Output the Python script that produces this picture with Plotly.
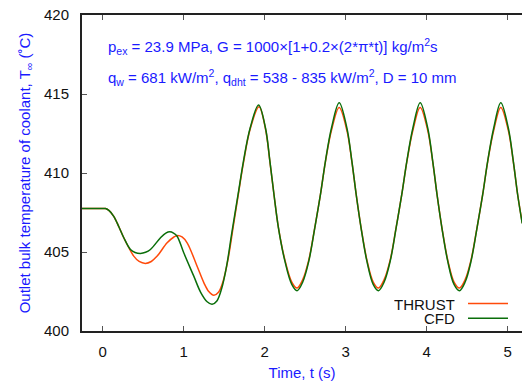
import plotly.graph_objects as go

# ---- data ----
t_thrust = [-0.26, 0.0, 0.035, 0.08, 0.137, 0.2, 0.261, 0.32, 0.384, 0.45, 0.528, 0.6, 0.673, 0.796,
            0.88, 0.927, 0.98, 1.043, 1.166, 1.25, 1.31, 1.372, 1.43, 1.49, 1.55, 1.615, 1.675, 1.74, 1.822, 1.93,
            2.01, 2.065, 2.115, 2.17, 2.25, 2.335, 2.40, 2.47, 2.545, 2.619, 2.689, 2.75, 2.825, 2.92,
            3.015, 3.077, 3.13, 3.19, 3.262, 3.34, 3.405, 3.475, 3.55, 3.623, 3.693, 3.755, 3.83, 3.92,
            4.013, 4.075, 4.128, 4.188, 4.26, 4.338, 4.405, 4.475, 4.548, 4.622, 4.692, 4.753, 4.828, 4.915,
            5.008, 5.07, 5.123, 5.18]
T_thrust = [407.75, 407.75, 407.75, 407.62, 407.26, 406.6, 405.9, 405.3, 404.74, 404.4, 404.28, 404.4, 404.74, 405.58,
            405.95, 406.05, 405.95, 405.58, 404.1, 403.05, 402.5, 402.26, 402.45, 403.2, 404.6, 406.7, 408.64, 410.7, 412.8, 414.2,
            412.8, 410.7, 408.64, 406.55, 404.5, 403.1, 402.72, 403.25, 404.5, 406.55, 408.64, 410.7, 412.7, 414.15,
            412.7, 410.7, 408.64, 406.55, 404.5, 403.1, 402.72, 403.25, 404.5, 406.55, 408.64, 410.7, 412.7, 414.15,
            412.7, 410.7, 408.64, 406.55, 404.5, 403.1, 402.72, 403.25, 404.5, 406.55, 408.64, 410.7, 412.7, 414.15,
            412.7, 410.7, 408.64, 406.85]

t_cfd = [-0.26, 0.0, 0.035, 0.08, 0.137, 0.2, 0.261, 0.343, 0.40, 0.467, 0.53, 0.59, 0.714, 0.78, 0.829, 0.875, 0.919, 1.001,
         1.125, 1.21, 1.29, 1.351, 1.41, 1.47, 1.53, 1.594, 1.672, 1.738, 1.821, 1.925,
         2.01, 2.065, 2.115, 2.17, 2.25, 2.335, 2.40, 2.47, 2.545, 2.619, 2.689, 2.75, 2.825, 2.92,
         3.015, 3.077, 3.13, 3.19, 3.262, 3.34, 3.405, 3.475, 3.55, 3.623, 3.693, 3.755, 3.83, 3.92,
         4.013, 4.075, 4.128, 4.188, 4.26, 4.338, 4.405, 4.475, 4.548, 4.622, 4.692, 4.753, 4.828, 4.915,
         5.008, 5.07, 5.123, 5.18]
T_cfd = [407.75, 407.75, 407.75, 407.62, 407.26, 406.6, 405.9, 405.16, 404.97, 404.91, 404.98, 405.16, 405.9, 406.2, 406.28, 406.2, 406.0, 404.95,
         403.47, 402.45, 401.85, 401.69, 401.9, 402.7, 404.1, 406.2, 408.64, 410.74, 412.85, 414.3,
         412.85, 410.74, 408.64, 406.53, 404.42, 402.95, 402.55, 403.1, 404.42, 406.53, 408.64, 410.74, 412.85, 414.45,
         412.85, 410.74, 408.64, 406.53, 404.42, 402.95, 402.55, 403.1, 404.42, 406.53, 408.64, 410.74, 412.85, 414.45,
         412.85, 410.74, 408.64, 406.53, 404.42, 402.95, 402.55, 403.1, 404.42, 406.53, 408.64, 410.74, 412.85, 414.45,
         412.85, 410.74, 408.64, 406.8]

x_ticks = [0, 1, 2, 3, 4, 5]
y_ticks = [400, 405, 410, 415, 420]
series_names = ["THRUST", "CFD"]
series_colors = ["#ff4a0a", "#0a6e0a"]

FONT = "Liberation Sans, Arial, Helvetica, sans-serif"
BLUE = "#1a1aff"

fig = go.Figure()
fig.add_trace(go.Scatter(x=t_thrust, y=T_thrust, mode="lines", name=series_names[0],
                         line=dict(color=series_colors[0], width=1.5, shape="spline", smoothing=1.0),
                         showlegend=False))
fig.add_trace(go.Scatter(x=t_cfd, y=T_cfd, mode="lines", name=series_names[1],
                         line=dict(color=series_colors[1], width=1.5, shape="spline", smoothing=1.0),
                         showlegend=False))

fig.update_layout(
    width=522, height=381,
    margin=dict(l=82, r=0, t=15, b=50),
    paper_bgcolor="white", plot_bgcolor="white",
    font=dict(family=FONT, size=15, color="#111111"),
    xaxis=dict(range=[-0.255, 5.177], tickvals=x_ticks, ticktext=[str(v) for v in x_ticks],
               ticks="inside", ticklen=5, tickcolor="#555555", tickwidth=1,
               showline=True, linecolor="#222222", linewidth=2, mirror="ticks",
               showgrid=False, zeroline=False, ticklabelstandoff=6,
               title=dict(text="Time, t (s)", font=dict(color=BLUE, size=15, family=FONT), standoff=9)),
    yaxis=dict(range=[400, 420], tickvals=y_ticks, ticktext=[str(v) for v in y_ticks],
               ticks="inside", ticklen=5, tickcolor="#555555", tickwidth=1,
               showline=True, linecolor="#222222", linewidth=2, mirror=False,
               showgrid=False, zeroline=False, ticklabelstandoff=8,
               title=dict(text="Outlet bulk temperature of coolant, T<sub>∞</sub> (˚C)",
                          font=dict(color=BLUE, size=15, family=FONT), standoff=10)),
)

# text annotations
fig.add_annotation(x=0.0555, xref="paper", y=0.90, yref="paper", xanchor="left", yanchor="middle",
                   showarrow=False,
                   text="p<sub>ex</sub> = 23.9 MPa, G = 1000×[1+0.2×(2*π*t)] kg/m<sup>2</sup>s",
                   font=dict(color=BLUE, size=15, family=FONT))
fig.add_annotation(x=0.0555, xref="paper", y=0.802, yref="paper", xanchor="left", yanchor="middle",
                   showarrow=False,
                   text="q<sub>w</sub> = 681 kW/m<sup>2</sup>, q<sub>dht</sub> = 538 - 835 kW/m<sup>2</sup>, D = 10 mm",
                   font=dict(color=BLUE, size=15, family=FONT))

# gnuplot-style legend: text on the left, line sample on the right
leg_y = [0.087, 0.04]
for name, col, ly in zip(series_names, series_colors, leg_y):
    fig.add_annotation(x=(457 - 82) / 440, xref="paper", y=ly, yref="paper", xanchor="right",
                       yanchor="middle", showarrow=False, text=name, height=14,
                       font=dict(color="#111111", size=15, family=FONT))
    fig.add_shape(type="line", xref="paper", yref="paper", x0=(468 - 82) / 440, x1=(508 - 82) / 440,
                  y0=ly, y1=ly, line=dict(color=col, width=1.5))

fig.write_html("out.html")
